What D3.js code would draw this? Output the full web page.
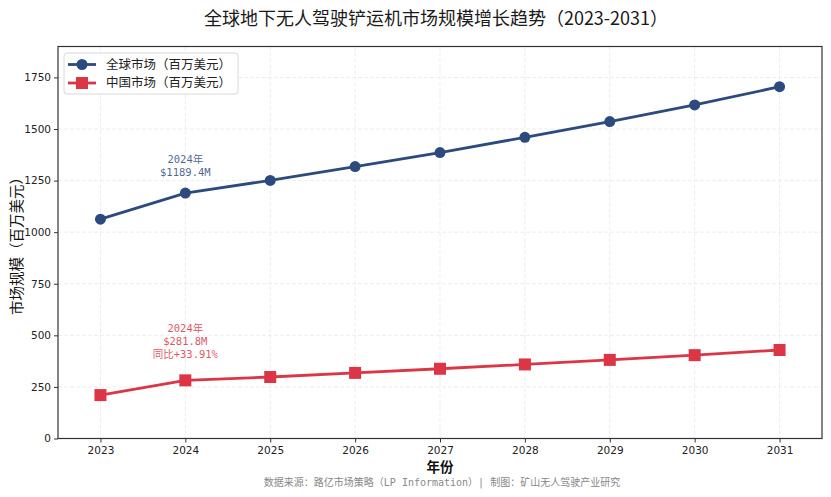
<!DOCTYPE html>
<html lang="zh-CN"><head><meta charset="utf-8">
<script src="https://cdn.jsdelivr.net/npm/d3@7/dist/d3.min.js"></script>
<style>
body{margin:0;background:#fff;}
text{font-family:"Noto Sans CJK SC","Noto Sans",sans-serif;}
.mono{font-family:"DejaVu Sans Mono","Noto Sans CJK SC",monospace;}
.lat{font-family:"DejaVu Sans","Noto Sans CJK SC",sans-serif;}
</style></head>
<body><svg id="c" width="831" height="497"></svg>
<script>
const years = [2023, 2024, 2025, 2026, 2027, 2028, 2029, 2030, 2031];
const globalMarket = [1063, 1189.4, 1251, 1318, 1386, 1460, 1536, 1617, 1705];
const chinaMarket = [210.4, 281.8, 298, 318, 338, 359, 381, 404, 429];
const yTicks = [0, 250, 500, 750, 1000, 1250, 1500, 1750];
const seriesNames = ["全球市场（百万美元）", "中国市场（百万美元）"];
const titleText = "全球地下无人驾驶铲运机市场规模增长趋势（2023-2031）";
const xLabel = "年份", yLabel = "市场规模（百万美元）";
const sourceText = "数据来源：路亿市场策略（LP Information）| 制图：矿山无人驾驶产业研究";
const annoGlobal = ["2024年", "$1189.4M"];
const annoChina = ["2024年", "$281.8M", "同比+33.91%"];

const svg = d3.select("#c");
const m = {l:58, r:822, t:46.5, b:438.5};
const blue = "#2d4a7f", red = "#dc3545";

const x = d3.scaleLinear().domain([2022.5, 2031.5]).range([m.l, m.r]);
const y = d3.scaleLinear().domain([0, 1900]).range([m.b, m.t]);

// grid
const g = svg.append("g");
g.selectAll(".gx").data(years).enter().append("line")
  .attr("x1", d=>x(d)).attr("x2", d=>x(d)).attr("y1", m.t).attr("y2", m.b)
  .attr("stroke", "#e8e8e8").attr("stroke-dasharray", "4,2").attr("stroke-width", 0.8);
g.selectAll(".gy").data(yTicks).enter().append("line")
  .attr("x1", m.l).attr("x2", m.r).attr("y1", d=>y(d)).attr("y2", d=>y(d))
  .attr("stroke", "#e8e8e8").attr("stroke-dasharray", "4,2").attr("stroke-width", 0.8);

// axes
const xa = svg.append("g").attr("transform", `translate(0,${m.b})`)
  .call(d3.axisBottom(x).tickValues(years).tickFormat(d3.format("d")).tickSize(4).tickSizeOuter(0));
const ya = svg.append("g").attr("transform", `translate(${m.l},0)`)
  .call(d3.axisLeft(y).tickValues(yTicks).tickFormat(d3.format("d")).tickSize(4).tickSizeOuter(0));
[xa, ya].forEach(a => {
  a.select(".domain").remove();
  a.selectAll("text").attr("class", "lat").attr("font-size", 10.5).attr("fill", "#222");
  a.selectAll("line").attr("stroke", "#333");
});
xa.selectAll("text").attr("dy", "0.85em");

// frame
svg.append("rect").attr("x", m.l).attr("y", m.t).attr("width", m.r-m.l).attr("height", m.b-m.t)
  .attr("fill", "none").attr("stroke", "#333").attr("stroke-width", 1.2);

const line = d3.line().x((d,i)=>x(years[i])).y(d=>y(d));

// global
svg.append("path").datum(globalMarket).attr("d", line).attr("fill", "none")
  .attr("stroke", blue).attr("stroke-width", 2.8);
svg.selectAll(".cg").data(globalMarket).enter().append("circle")
  .attr("cx", (d,i)=>x(years[i])).attr("cy", d=>y(d)).attr("r", 5.5).attr("fill", blue);

// china
svg.append("path").datum(chinaMarket).attr("d", line).attr("fill", "none")
  .attr("stroke", red).attr("stroke-width", 2.8);
svg.selectAll(".sc").data(chinaMarket).enter().append("rect")
  .attr("x", (d,i)=>x(years[i])-6).attr("y", d=>y(d)-6).attr("width", 12).attr("height", 12).attr("fill", red);

// annotations
annoGlobal.forEach((t,i)=>svg.append("text").attr("class", "mono").attr("text-anchor", "middle").attr("font-size", 10.5)
  .attr("fill", blue).attr("fill-opacity", 0.85)
  .attr("x", x(2024)).attr("y", y(globalMarket[1]) - 30 + i*12.6).text(t));
annoChina.forEach((t,i)=>svg.append("text").attr("class", "mono").attr("text-anchor", "middle").attr("font-size", 10.5)
  .attr("fill", red).attr("fill-opacity", 0.85)
  .attr("x", x(2024)).attr("y", y(chinaMarket[1]) - 48 + i*12.6).text(t));

// legend
const lg = svg.append("g");
lg.append("rect").attr("x", 64).attr("y", 53).attr("width", 174).attr("height", 41).attr("rx", 3)
  .attr("fill", "#fff").attr("fill-opacity", 0.85).attr("stroke", "#d8d8d8");
[[blue,"c"],[red,"s"]].forEach((s,i)=>{
  const cy = 64.5 + i*18.5;
  lg.append("line").attr("x1", 68).attr("x2", 96).attr("y1", cy).attr("y2", cy).attr("stroke", s[0]).attr("stroke-width", 2.8);
  if (s[1]==="c") lg.append("circle").attr("cx", 82).attr("cy", cy).attr("r", 5.5).attr("fill", s[0]);
  else lg.append("rect").attr("x", 76).attr("y", cy-6).attr("width", 12).attr("height", 12).attr("fill", s[0]);
  lg.append("text").attr("x", 106).attr("y", cy).attr("dy", "0.35em").attr("font-size", 12.5).attr("fill", "#222").text(seriesNames[i]);
});

// titles
svg.append("text").attr("x", 436).attr("y", 19).attr("dy", "0.35em").attr("text-anchor", "middle")
  .attr("font-size", 18).attr("fill", "#1a1a1a").text(titleText);
svg.append("text").attr("transform", `translate(17,${(m.t+m.b)/2}) rotate(-90)`).attr("dy", "0.35em")
  .attr("text-anchor", "middle").attr("font-size", 14.5).attr("fill", "#111").text(yLabel);
svg.append("text").attr("class", "lat").attr("x", (m.l+m.r)/2).attr("y", 467).attr("dy", "0.35em").attr("text-anchor", "middle")
  .attr("font-size", 13.5).attr("font-weight", "bold").attr("fill", "#111").text(xLabel);
svg.append("text").attr("class", "mono").attr("x", 442).attr("y", 482).attr("dy", "0.35em").attr("text-anchor", "middle")
  .attr("font-size", 10).attr("fill", "#888").text(sourceText);
</script></body></html>
